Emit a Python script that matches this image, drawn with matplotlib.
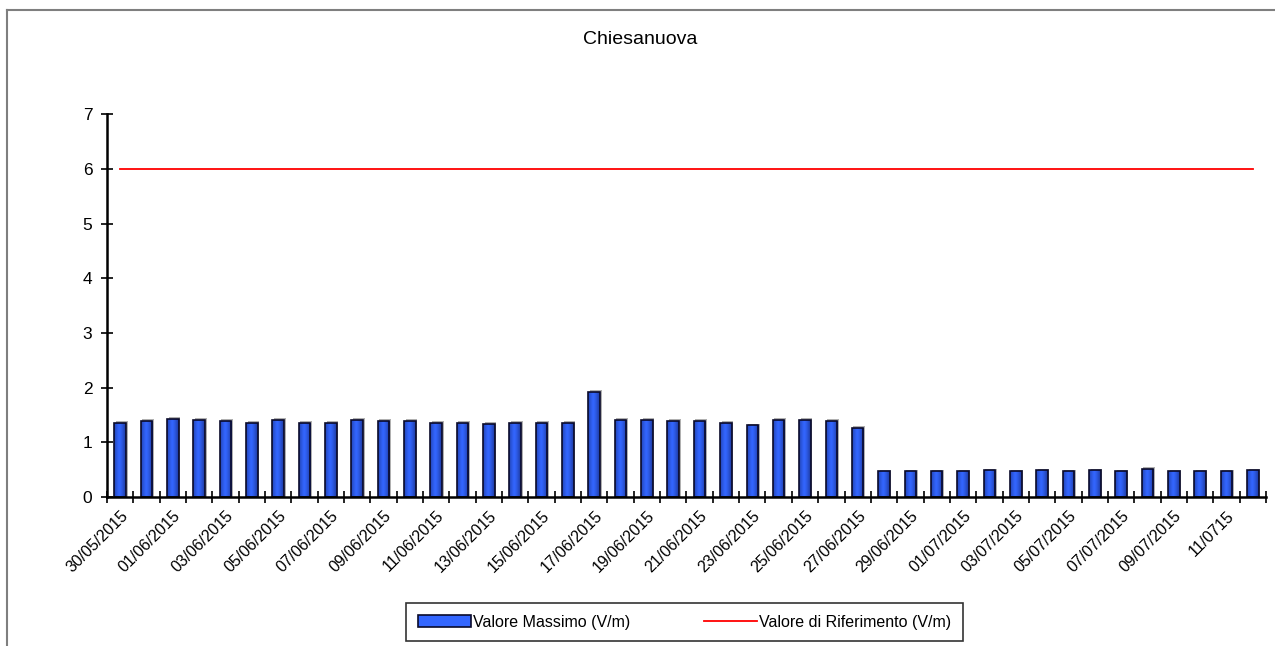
import numpy as np
import matplotlib
matplotlib.use('Agg')
import matplotlib.pyplot as plt
from matplotlib.patches import Rectangle, Patch
from matplotlib.lines import Line2D

plt.rcParams['font.family'] = ['Liberation Sans', 'DejaVu Sans']

# dati
date = ['30/05/2015', '31/05/2015', '01/06/2015', '02/06/2015', '03/06/2015', '04/06/2015',
        '05/06/2015', '06/06/2015', '07/06/2015', '08/06/2015', '09/06/2015', '10/06/2015',
        '11/06/2015', '12/06/2015', '13/06/2015', '14/06/2015', '15/06/2015', '16/06/2015',
        '17/06/2015', '18/06/2015', '19/06/2015', '20/06/2015', '21/06/2015', '22/06/2015',
        '23/06/2015', '24/06/2015', '25/06/2015', '26/06/2015', '27/06/2015', '28/06/2015',
        '29/06/2015', '30/06/2015', '01/07/2015', '02/07/2015', '03/07/2015', '04/07/2015',
        '05/07/2015', '06/07/2015', '07/07/2015', '08/07/2015', '09/07/2015', '10/07/2015',
        '11/0715', '12/07/2015']
valore_massimo = [1.36, 1.39, 1.43, 1.41, 1.39, 1.36, 1.41, 1.36, 1.36, 1.41, 1.39, 1.39,
                  1.36, 1.36, 1.34, 1.36, 1.36, 1.36, 1.92, 1.41, 1.41, 1.39, 1.39, 1.36,
                  1.31, 1.41, 1.41, 1.39, 1.26, 0.47, 0.47, 0.47, 0.47, 0.49, 0.47, 0.49,
                  0.47, 0.49, 0.47, 0.52, 0.47, 0.47, 0.47, 0.49]
valore_riferimento = [6] * len(date)

x = np.arange(len(date))
largh = 0.44

fig = plt.figure(figsize=(12.75, 6.46), dpi=100)
ax = fig.add_axes([0.0839, 0.2307, 0.9090, 0.5924])

# bordo esterno (solo sinistra e sopra visibili)
fig.add_artist(Line2D([7 / 1275, 7 / 1275], [0, 1 - 10 / 646], transform=fig.transFigure,
                      color='#7f7f7f', lw=1.5))
fig.add_artist(Line2D([7 / 1275, 1], [1 - 10 / 646, 1 - 10 / 646], transform=fig.transFigure,
                      color='#7f7f7f', lw=1.5))

# gradiente orizzontale tipo excel
t = np.linspace(0, 1, 64)
sfum = 1 - 0.65 * np.abs(t - 0.45) ** 1.3 * 2
base = np.array([0.2, 0.4, 1.0])
scuro = np.array([0.05, 0.1, 0.35])
grad = np.array([scuro + (base - scuro) * np.clip(s, 0, 1) for s in sfum])[None, :, :]

barre = ax.bar(x, valore_massimo, width=largh, color='none', edgecolor='#0a0a2a',
               linewidth=1.2, zorder=3)
for b in barre:
    x0, w, h = b.get_x(), b.get_width(), b.get_height()
    # ombra
    ax.add_patch(Rectangle((x0 + 0.06, 0), w, h + 0.03, facecolor='#b0b0b0',
                           edgecolor='none', zorder=1))
    im = ax.imshow(grad, extent=[x0, x0 + w, 0, h], aspect='auto', zorder=2,
                   interpolation='bilinear')
    im.set_clip_path(b)

ax.plot(x, valore_riferimento, color='red', lw=1.3, zorder=4)

ax.set_xlim(-0.5, len(date) - 0.5)
ax.set_ylim(0, 7)
ax.set_yticks(range(8))
ax.tick_params(axis='y', direction='inout', length=9, width=1.2, labelsize=12.5, pad=6)

ax.set_xticks(np.arange(-0.5, len(date), 1), minor=True)
ax.set_xticks(x[::2])
ax.set_xticklabels(date[::2], rotation=45, ha='right', rotation_mode='anchor')
ax.tick_params(axis='x', which='major', length=0, labelsize=11.5, pad=8)
ax.tick_params(axis='x', which='minor', direction='inout', length=9, width=1.2)

for s in ['top', 'right']:
    ax.spines[s].set_visible(False)
for s in ['left', 'bottom']:
    ax.spines[s].set_linewidth(1.8)
    ax.spines[s].set_zorder(5)

fig.text(0.502, 1 - 40 / 646, 'Chiesanuova', ha='center', va='center', fontsize=14)

maniglie = [Patch(facecolor='#3366ff', edgecolor='#0a0a2a', lw=1.2),
            Line2D([0], [0], color='red', lw=1.3)]
leg = fig.legend(maniglie, ['Valore Massimo (V/m)', 'Valore di Riferimento (V/m)'],
                 loc='center', bbox_to_anchor=(0.537, 1 - 622 / 646), ncol=2,
                 fontsize=11.5, frameon=True, fancybox=False, edgecolor='black',
                 handlelength=3.3, handleheight=0.8, handletextpad=0.15,
                 columnspacing=4.6, borderpad=0.75, borderaxespad=0)
leg.get_frame().set_linewidth(1.2)

fig.savefig('out.png', dpi=100)
